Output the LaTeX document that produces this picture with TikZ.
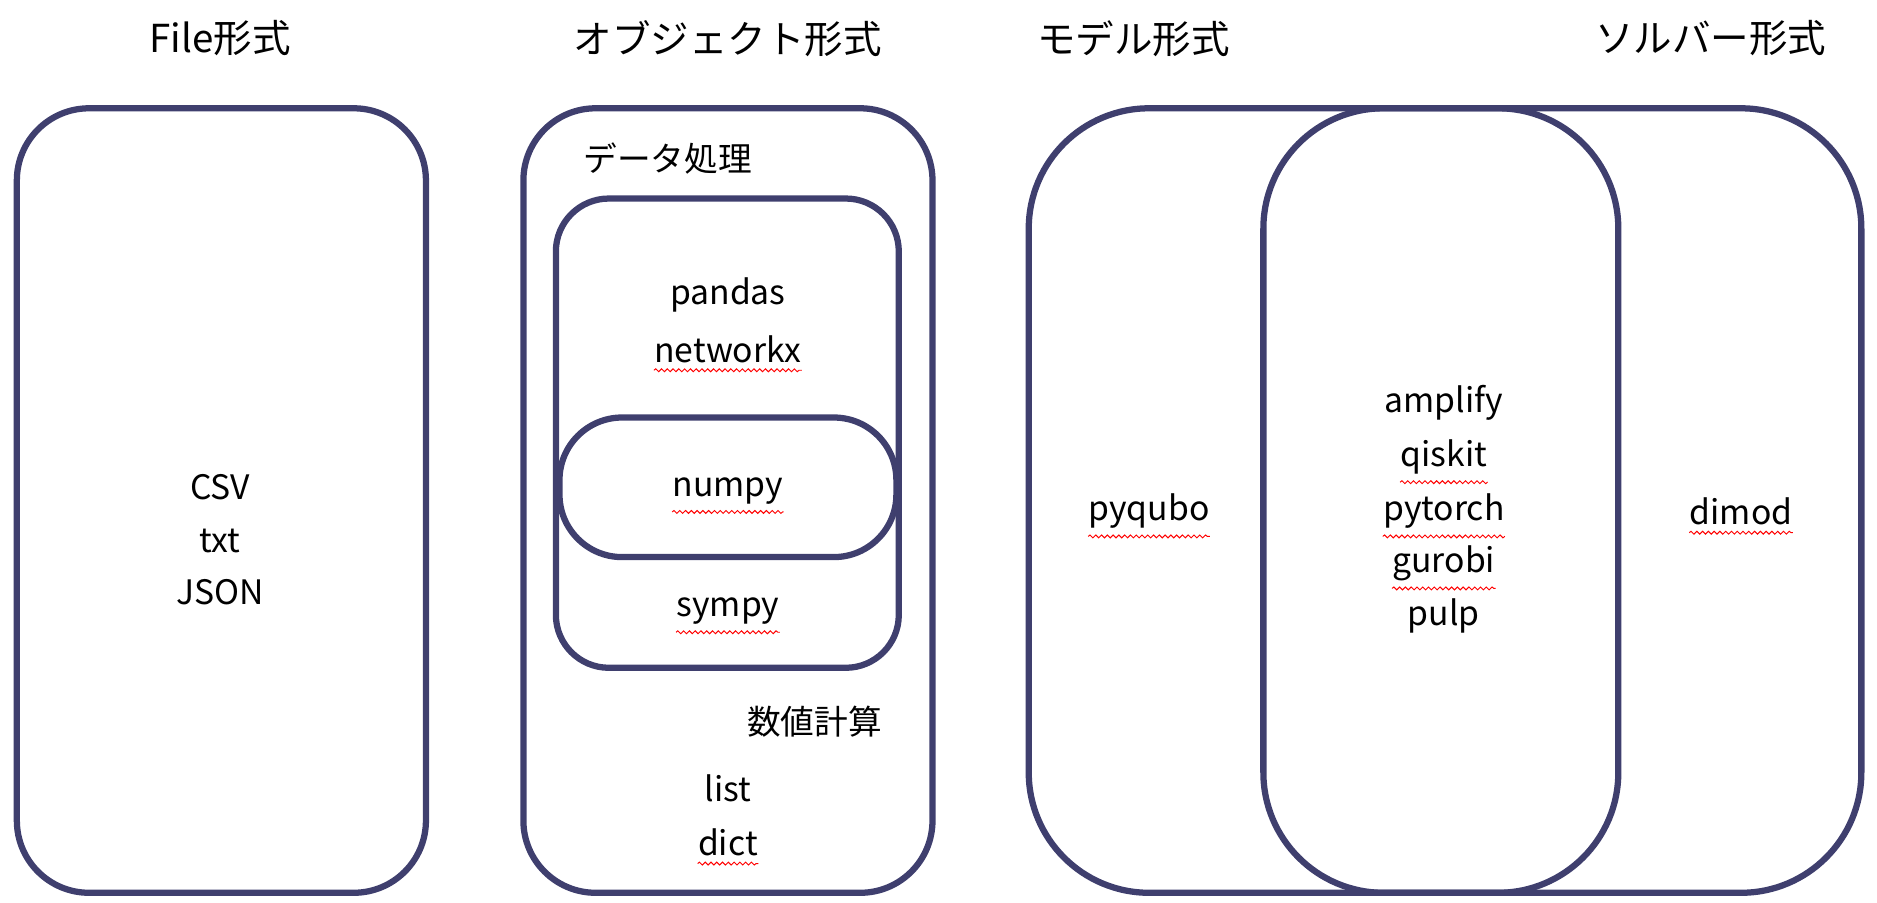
\documentclass[tikz,border=0pt]{standalone}
\usepackage{fontspec}
\setmainfont{Noto Sans CJK JP}
\usetikzlibrary{decorations.pathmorphing}
\definecolor{navy}{HTML}{3F3F6E}
\tikzset{
  box/.style={draw=navy,line width=2.6pt,rounded corners=#1},
  lbl/.style={font=\fontsize{14}{16}\selectfont,inner sep=0pt},
  ttl/.style={font=\fontsize{16}{18}\selectfont,inner sep=0pt},
  wavy/.style={red,line width=0.4pt,decorate,decoration={snake,amplitude=0.6pt,segment length=2.4pt}}
}
\newcommand{\squig}[1]{\draw[wavy] ([yshift=-3pt]#1.south west) -- ([yshift=-3pt]#1.south east);}
\begin{document}
\begin{tikzpicture}[x=0.5pt,y=-0.5pt]
\useasboundingbox (0,0) rectangle (1560,750);
% boxes
\draw[box=30pt] (14,90) rectangle (354,742);
\draw[box=30pt] (435,90) rectangle (775,742);
\draw[box=22pt] (462,165) rectangle (747,555);
\draw[box=26pt] (465,347) rectangle (745,463);
\draw[box=50pt] (855,90) rectangle (1547,742);
\draw[box=50pt] (1050,90) rectangle (1345,742);
% titles
\node[ttl] (t1) at (183,32) {File形式};
\node[ttl] (t2) at (605,32) {オブジェクト形式};
\node[ttl] (t3) at (942,32) {モデル形式};
\node[ttl] (t4) at (1422,32) {ソルバー形式};
% file
\node[lbl] (csv) at (183,405) {CSV};
\node[lbl] (txt) at (183,450) {txt};
\node[lbl] (json) at (183,492) {JSON};
% object
\node[lbl] (dp) at (555,132) {データ処理};
\node[lbl] (pandas) at (605,245) {pandas};
\node[lbl] (networkx) at (605,290) {networkx};
\node[lbl] (numpy) at (605,408) {numpy};
\node[lbl] (sympy) at (605,508) {sympy};
\node[lbl] (num) at (677,600) {数値計算};
\node[lbl] (list) at (605,655) {list};
\node[lbl] (dict) at (605,700) {dict};
% model / solver
\node[lbl] (pyqubo) at (955,425) {pyqubo};
\node[lbl] (amplify) at (1200,335) {amplify};
\node[lbl] (qiskit) at (1200,380) {qiskit};
\node[lbl] (pytorch) at (1200,425) {pytorch};
\node[lbl] (gurobi) at (1200,468) {gurobi};
\node[lbl] (pulp) at (1200,512) {pulp};
\node[lbl] (dimod) at (1447,425) {dimod};
\squig{networkx}\squig{numpy}\squig{sympy}\squig{dict}
\squig{pyqubo}\squig{qiskit}\squig{pytorch}\squig{gurobi}\squig{dimod}
\end{tikzpicture}
\end{document}
